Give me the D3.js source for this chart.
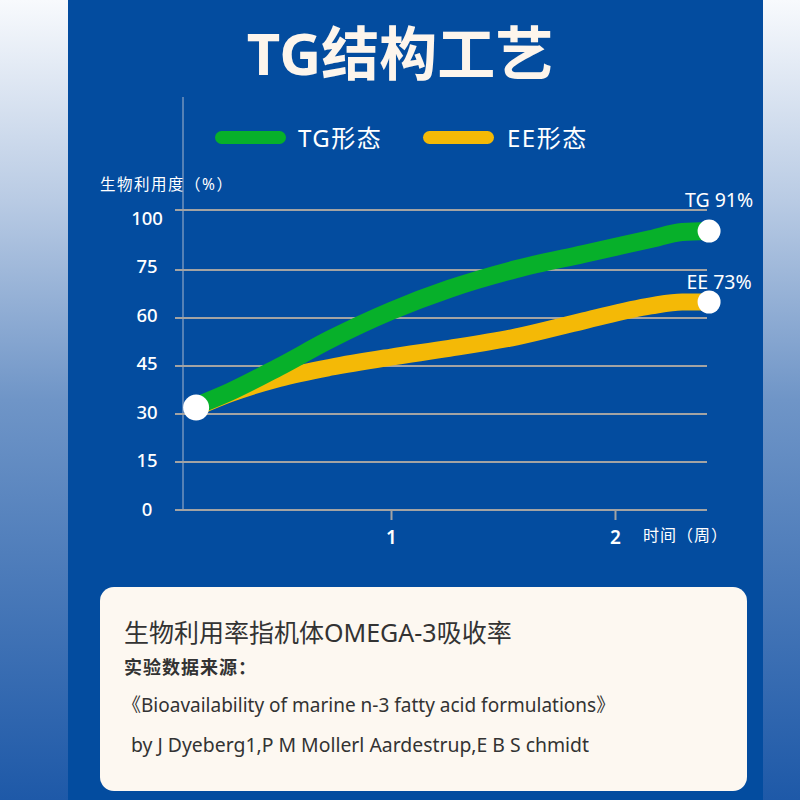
<!DOCTYPE html>
<html lang="zh">
<head>
<meta charset="utf-8">
<title>TG结构工艺</title>
<script src="https://cdn.jsdelivr.net/npm/d3@7"></script>
<style>
  body { margin: 0; background: #ffffff; }
  text { font-family: "Noto Sans", "Noto Sans CJK SC", sans-serif; }
</style>
</head>
<body>
<script>
// data (time in weeks, bioavailability in %)
var weeks = [0.13, 0.28, 0.5, 0.73, 1.0, 1.26, 1.56, 1.86, 2.16, 2.3, 2.42];
var tgValues = [32.5, 36.9, 44.7, 53.4, 62.2, 69.1, 75.4, 81.7, 87.9, 90.8, 91.2];
var eeValues = [32, 36.3, 41.1, 44.6, 47.8, 50.5, 54.1, 59.1, 63.8, 65, 65];
var yTicks = [0, 15, 30, 45, 60, 75, 100];
var xTicks = [1, 2];
var seriesNames = ["TG形态", "EE形态"];
var endLabels = ["TG 91%", "EE 73%"];

var W = 800, H = 800;
var green = "#07b02a", yellow = "#f4b906";

var svg = d3.select("body").append("svg")
    .attr("width", W)
    .attr("height", H);

// page background
var defs = svg.append("defs");
var grad = defs.append("linearGradient")
    .attr("id", "bg")
    .attr("x1", 0).attr("y1", 0).attr("x2", 0).attr("y2", 1);
grad.append("stop").attr("offset", "0").attr("stop-color", "#f8fafd");
grad.append("stop").attr("offset", "0.25").attr("stop-color", "#b9cbe4");
grad.append("stop").attr("offset", "0.5").attr("stop-color", "#6f95c7");
grad.append("stop").attr("offset", "1").attr("stop-color", "#1e59a8");

svg.append("rect").attr("width", W).attr("height", H).attr("fill", "url(#bg)");
svg.append("rect")
    .attr("x", 68).attr("y", 0)
    .attr("width", 695).attr("height", H)
    .attr("fill", "#034c9f");

// title
svg.append("text")
    .attr("x", 400).attr("y", 75)
    .attr("text-anchor", "middle")
    .attr("font-size", 58)
    .attr("font-weight", "bold")
    .attr("fill", "#fdf5ec")
    .text("TG结构工艺");

// scales
var x = d3.scaleLinear().domain([1, 2]).range([391, 615]);
var y = d3.scaleLinear().domain([0, 75, 100]).range([510, 270, 210]);
// tick labels sit evenly spaced
var yLab = d3.scalePoint().domain(yTicks).range([509, 218]);

// legend
var legend = svg.selectAll(".legend")
    .data(seriesNames)
    .enter()
    .append("g")
    .attr("class", "legend")
    .attr("transform", function(d, i) { return "translate(" + (215 + i * 208) + ",131)"; });
legend.append("rect")
    .attr("width", 71).attr("height", 13)
    .attr("rx", 6.5)
    .attr("fill", function(d, i) { return i == 0 ? green : yellow; });
legend.append("text")
    .attr("x", function(d, i) { return i == 0 ? 83 : 84; })
    .attr("y", 16)
    .attr("font-size", 24)
    .attr("letter-spacing", 1.5)
    .attr("fill", "#ffffff")
    .text(function(d) { return d; });

// y title
svg.append("text")
    .attr("x", 100).attr("y", 190)
    .attr("font-size", 15.5)
    .attr("letter-spacing", 1.5)
    .attr("fill", "#ffffff")
    .text("生物利用度（%）");

// vertical axis line
svg.append("line")
    .attr("x1", 183).attr("x2", 183)
    .attr("y1", 97).attr("y2", y(0))
    .attr("stroke", "#a9b6cc")
    .attr("stroke-width", 1);

// grid lines
svg.selectAll(".grid")
    .data(yTicks)
    .enter()
    .append("line")
    .attr("class", "grid")
    .attr("x1", 175).attr("x2", 707)
    .attr("y1", function(d) { return y(d); })
    .attr("y2", function(d) { return y(d); })
    .attr("stroke", "#a3a3a3")
    .attr("stroke-width", 2);

svg.selectAll(".ylab")
    .data(yTicks)
    .enter()
    .append("text")
    .attr("class", "ylab")
    .attr("x", 147)
    .attr("y", function(d) { return yLab(d); })
    .attr("dy", "0.36em")
    .attr("text-anchor", "middle")
    .attr("font-size", 18.5)
    .attr("font-weight", 500)
    .attr("fill", "#ffffff")
    .text(function(d) { return d; });

// x axis ticks
var xAxis = d3.axisBottom(x)
    .tickValues(xTicks)
    .tickSize(10)
    .tickPadding(11)
    .tickFormat(d3.format("d"));
var gx = svg.append("g")
    .attr("transform", "translate(0," + y(0) + ")")
    .call(xAxis);
gx.select(".domain").remove();
gx.selectAll("line").attr("stroke", "#a3a3a3").attr("stroke-width", 2);
gx.selectAll("text")
    .attr("fill", "#ffffff")
    .attr("font-size", 19)
    .attr("font-weight", 600)
    .attr("font-family", "Noto Sans, sans-serif");

svg.append("text")
    .attr("x", 643).attr("y", 541)
    .attr("font-size", 16)
    .attr("letter-spacing", 1)
    .attr("fill", "#ffffff")
    .text("时间（周）");

// lines
var line = d3.line()
    .x(function(d, i) { return x(weeks[i]); })
    .y(function(d) { return y(d); })
    .curve(d3.curveMonotoneX);

svg.append("path")
    .datum(eeValues)
    .attr("d", line)
    .attr("fill", "none")
    .attr("stroke", yellow)
    .attr("stroke-width", 17);

svg.append("path")
    .datum(tgValues)
    .attr("d", line)
    .attr("fill", "none")
    .attr("stroke", green)
    .attr("stroke-width", 18);

// markers
var last = weeks.length - 1;
svg.append("circle")
    .attr("cx", x(weeks[0]))
    .attr("cy", y(eeValues[0]))
    .attr("r", 13)
    .attr("fill", "#ffffff");

var ends = [tgValues[last], eeValues[last]];
svg.selectAll(".endpt")
    .data(ends)
    .enter()
    .append("circle")
    .attr("class", "endpt")
    .attr("cx", x(weeks[last]))
    .attr("cy", function(d) { return y(d); })
    .attr("r", 11.5)
    .attr("fill", "#ffffff");

svg.selectAll(".endlab")
    .data(ends)
    .enter()
    .append("text")
    .attr("class", "endlab")
    .attr("x", x(weeks[last]) + 10)
    .attr("y", function(d, i) { return y(d) - (i == 0 ? 24 : 13); })
    .attr("text-anchor", "middle")
    .attr("font-size", 19.5)
    .attr("fill", "#ffffff")
    .text(function(d, i) { return endLabels[i]; });

// note box
svg.append("rect")
    .attr("x", 100).attr("y", 587)
    .attr("width", 647).attr("height", 204)
    .attr("rx", 14)
    .attr("fill", "#fdf8f1");

svg.append("text")
    .attr("x", 124).attr("y", 642)
    .attr("font-size", 25)
    .attr("fill", "#333333")
    .text("生物利用率指机体OMEGA-3吸收率");

svg.append("text")
    .attr("x", 124).attr("y", 674)
    .attr("font-size", 18)
    .attr("letter-spacing", 1)
    .attr("font-weight", "bold")
    .attr("fill", "#333333")
    .text("实验数据来源：");

svg.append("text")
    .attr("x", 122).attr("y", 712)
    .attr("font-size", 19)
    .attr("fill", "#333333")
    .text("《Bioavailability of marine n-3 fatty acid formulations》");

svg.append("text")
    .attr("x", 131).attr("y", 752)
    .attr("font-size", 19.4)
    .attr("fill", "#333333")
    .text("by J Dyeberg1,P M Mollerl Aardestrup,E B S chmidt");
</script>
</body>
</html>
